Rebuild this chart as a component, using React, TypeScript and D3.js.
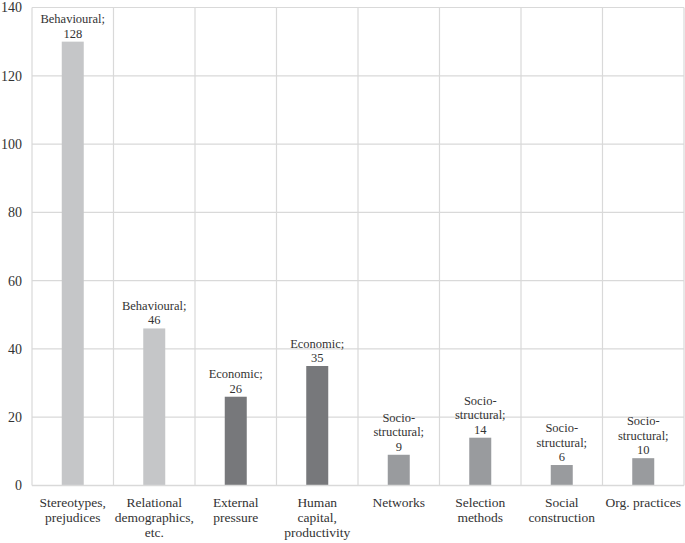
import React, { useRef, useEffect } from 'react';
import * as d3 from 'd3';

// categories (x axis), one entry per bar, lines split for wrapping
const categories: string[][] = [
	['Stereotypes,', 'prejudices'],
	['Relational', 'demographics,', 'etc.'],
	['External', 'pressure'],
	['Human', 'capital,', 'productivity'],
	['Networks'],
	['Selection', 'methods'],
	['Social', 'construction'],
	['Org. practices'],
];
// bar heights as drawn
const values = [130, 46, 26, 35, 9, 14, 6, 8];
// data label group and number shown above each bar
const groups = ['Behavioural', 'Behavioural', 'Economic', 'Economic', 'Socio-structural', 'Socio-structural', 'Socio-structural', 'Socio-structural'];
const labelNumbers = [128, 46, 26, 35, 9, 14, 6, 10];
const yTicks = [0, 20, 40, 60, 80, 100, 120, 140];

const groupColor: Record<string, string> = {
	'Behavioural': '#c5c6c8',
	'Economic': '#77787b',
	'Socio-structural': '#999b9e',
};

const App: React.FC = () => {
	const svgRef = useRef<SVGSVGElement | null>(null);

	useEffect(() => {
		if (!svgRef.current) return;
		const width = 685, height = 543;
		const left = 32, right = 684, top = 7.5, bottom = 485.5;
		const font = "'Liberation Serif', 'Times New Roman', Times, serif";

		const svg = d3.select(svgRef.current);
		svg.selectAll('*').remove();
		svg.attr('width', width).attr('height', height)
			.style('font-family', font);

		const x = d3.scaleBand<number>()
			.domain(d3.range(categories.length))
			.range([left, right])
			.paddingInner(0)
			.paddingOuter(0);
		const y = d3.scaleLinear().domain([0, 140]).range([bottom, top]);

		// horizontal grid
		svg.append('g')
			.selectAll('line')
			.data(yTicks.slice(1))
			.join('line')
			.attr('x1', left).attr('x2', right)
			.attr('y1', d => y(d)).attr('y2', d => y(d))
			.attr('stroke', '#d9d9d9').attr('stroke-width', 1.2);

		// vertical grid (category boundaries)
		svg.append('g')
			.selectAll('line')
			.data(d3.range(categories.length + 1))
			.join('line')
			.attr('x1', i => i < categories.length ? x(i)! : right)
			.attr('x2', i => i < categories.length ? x(i)! : right)
			.attr('y1', top).attr('y2', bottom)
			.attr('stroke', '#d9d9d9').attr('stroke-width', 1.2);

		// bars
		const barW = 22;
		svg.append('g')
			.selectAll('rect')
			.data(values)
			.join('rect')
			.attr('x', (_, i) => x(i)! + x.bandwidth() / 2 - barW / 2)
			.attr('width', barW)
			.attr('y', d => y(d))
			.attr('height', d => y(0) - y(d))
			.attr('fill', (_, i) => groupColor[groups[i]]);

		// baseline
		svg.append('line')
			.attr('x1', left).attr('x2', right)
			.attr('y1', bottom).attr('y2', bottom)
			.attr('stroke', '#d9d9d9').attr('stroke-width', 1.5);

		// y tick labels
		svg.append('g')
			.selectAll('text')
			.data(yTicks)
			.join('text')
			.attr('x', 22)
			.attr('y', d => y(d))
			.attr('dy', '0.35em')
			.attr('text-anchor', 'end')
			.style('font-family', font)
			.style('font-size', '14px')
			.attr('fill', '#333')
			.text(d => d);

		// data labels
		const lineH = 14.5;
		values.forEach((v, i) => {
			const g = groups[i];
			const lines = g === 'Socio-structural'
				? ['Socio-', 'structural;', String(labelNumbers[i])]
				: [g + ';', String(labelNumbers[i])];
			const cx = x(i)! + x.bandwidth() / 2;
			const base = y(v) - 4;
			svg.append('text')
				.attr('text-anchor', 'middle')
				.style('font-family', font)
				.style('font-size', '12.5px')
				.attr('fill', '#333')
				.selectAll('tspan')
				.data(lines)
				.join('tspan')
				.attr('x', cx)
				.attr('y', (_, k) => base - (lines.length - 1 - k) * lineH)
				.text(d => d);
		});

		// category labels
		categories.forEach((lines, i) => {
			const cx = x(i)! + x.bandwidth() / 2;
			svg.append('text')
				.attr('text-anchor', 'middle')
				.style('font-family', font)
				.style('font-size', '13.5px')
				.attr('fill', '#333')
				.selectAll('tspan')
				.data(lines)
				.join('tspan')
				.attr('x', cx)
				.attr('y', (_, k) => 507 + k * 15)
				.text(d => d);
		});
	}, []);

	return (
		<svg ref={svgRef} style={{ position: 'absolute', left: 0, top: 0 }} />
	);
};

export default App;
